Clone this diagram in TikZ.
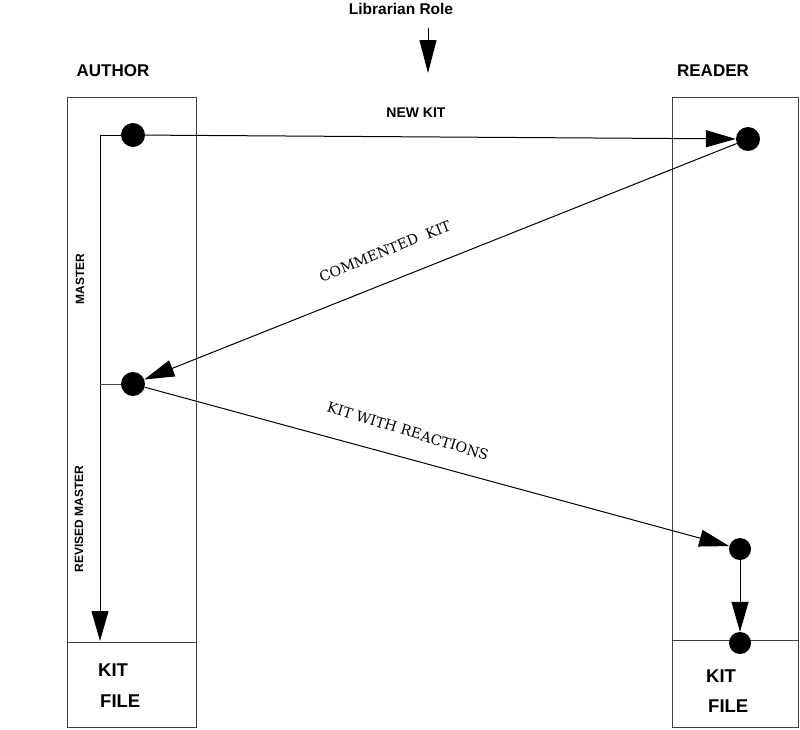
\documentclass[tikz,border=0pt]{standalone}
\usepackage{fontspec}
\setmainfont{DejaVu Serif}
\newfontfamily\arial{Liberation Sans}
\usetikzlibrary{arrows.meta}
\tikzset{
  dot/.style={circle, fill=black, inner sep=0pt, minimum size=24pt},
  dotsm/.style={circle, fill=black, inner sep=0pt, minimum size=22pt},
  arr/.style={line width=1pt, -{Triangle[length=30pt,width=17pt]}},
  boxline/.style={line width=0.9pt, draw=black!75},
  sanslbl/.style={font=\arial\bfseries\fontsize{17}{17}\selectfont, inner sep=0pt},
  filelbl/.style={font=\arial\bfseries\fontsize{18.5}{18.5}\selectfont, inner sep=0pt, anchor=base west},
  smallbold/.style={font=\arial\bfseries\fontsize{12}{12}\selectfont, inner sep=0pt},
  seriflbl/.style={font=\fontsize{14.2}{14.2}\selectfont, inner sep=0pt}
}
\begin{document}
\begin{tikzpicture}[x=1pt,y=-1pt]
\useasboundingbox (0,0) rectangle (800,729);
% boxes
\draw[boxline] (67,97) rectangle (196,727);
\draw[boxline] (67,642) -- (196,642);
\draw[boxline] (672,97) rectangle (798,727);
\draw[boxline] (672,640) -- (798,640);
% headings
\node[sanslbl, font=\arial\bfseries\fontsize{15.5}{15.5}\selectfont] (lib) at (401,9) {Librarian Role};
\coordinate (lt) at (428,28);
\coordinate (lb) at (428,73);
\draw[line width=1pt, -{Triangle[length=33pt,width=17pt]}] (lt) -- (lb);
\node[sanslbl] (author) at (113,71) {AUTHOR};
\node[sanslbl] (reader) at (713,71) {READER};
% dots
\node[dot] (a1) at (133,135) {};
\node[dot] (a2) at (133,384) {};
\node[dot] (r1) at (748,139) {};
\node[dotsm] (r2) at (740,549) {};
\node[dotsm] (r3) at (740,643) {};
\coordinate (ac1) at (100,135);
\coordinate (ac2) at (100,384);
\coordinate (aend) at (100,641);
% connectors
\draw[arr] (a1) -- (ac1) -- (aend);
\draw[line width=0.8pt, draw=black!70] (ac2) -- (a2);
\draw[arr] (a1) -- (r1);
\draw[arr] (r1) -- (a2);
\draw[arr] (a2) -- (r2);
\draw[arr] (r2) -- (r3);
% labels
\node[font=\arial\bfseries\fontsize{14}{14}\selectfont, inner sep=0pt] (newkit) at (416,113) {NEW KIT};
\node[smallbold, rotate=90] (master) at (80,279) {MASTER};
\node[smallbold, rotate=90] (revmaster) at (79,519) {REVISED MASTER};
\node[seriflbl, rotate=22] (comkit) at (385,251) {COMMENTED\ \ KIT};
\node[seriflbl, rotate=-17] (kwr) at (408,431) {KIT WITH REACTIONS};
\node[filelbl] (kitl) at (98,676) {KIT};
\node[filelbl] (filel) at (100,707) {FILE};
\node[filelbl] (kitr) at (706,682) {KIT};
\node[filelbl] (filer) at (708,712) {FILE};
\end{tikzpicture}
\end{document}
